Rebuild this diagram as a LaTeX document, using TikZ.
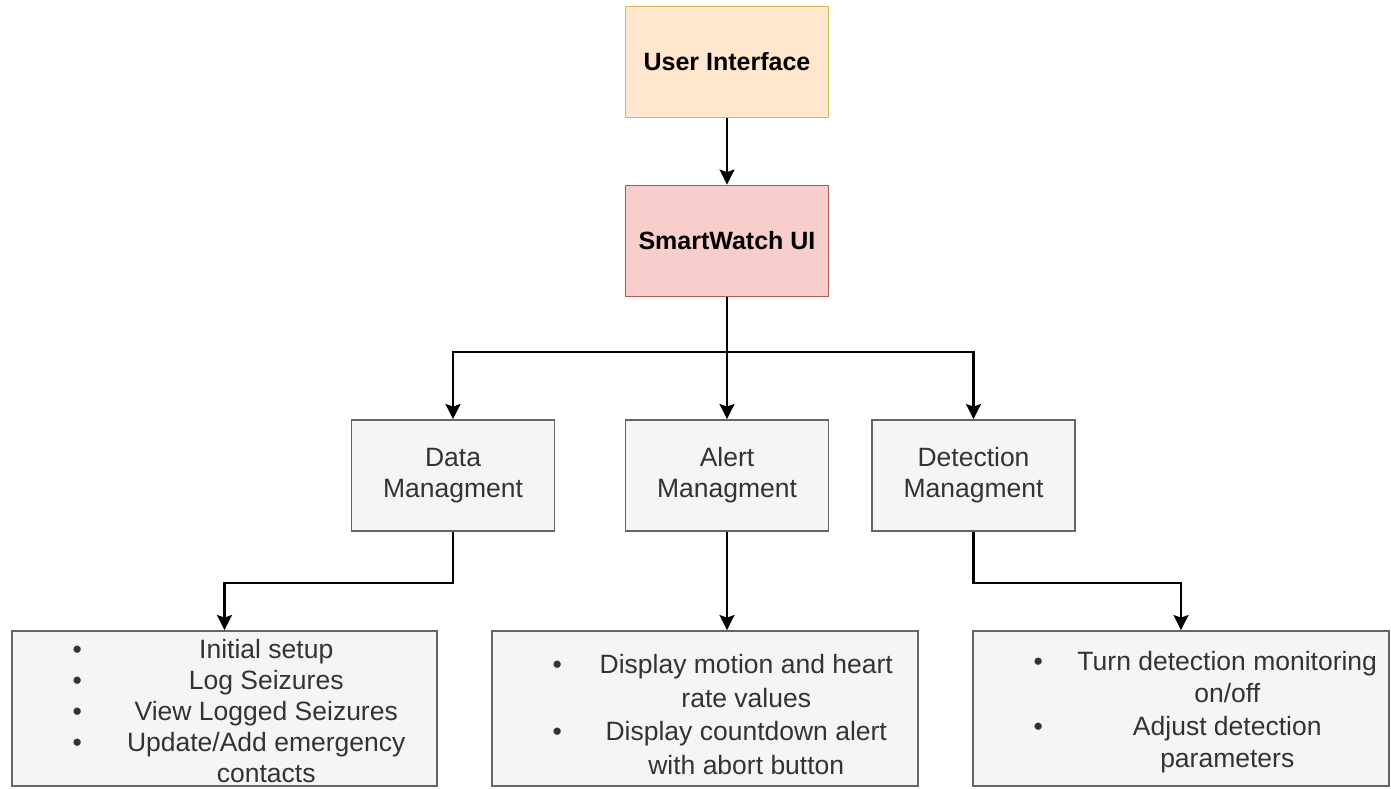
\documentclass[tikz,border=0pt]{standalone}
\usepackage{fontspec}
\setmainfont{Liberation Sans}
\usepackage{array}
\usetikzlibrary{arrows.meta}

\definecolor{uifill}{HTML}{FFE6CC}
\definecolor{uiline}{HTML}{D6B656}
\definecolor{swfill}{HTML}{F8CECC}
\definecolor{swline}{HTML}{B85450}
\definecolor{greyfill}{HTML}{F5F5F5}
\definecolor{greyline}{HTML}{666666}
\definecolor{greytext}{HTML}{333333}

\newcommand{\bulletrows}[1]{\begin{tabular}{@{}>{\centering\arraybackslash}p{40pt}@{\hspace{14pt}}>{\centering\arraybackslash}p{310pt}@{}}#1\end{tabular}}

\begin{document}
\begin{tikzpicture}[x=1pt,y=1pt,
  box/.style={draw, line width=1.9pt, minimum width=203pt, minimum height=111pt, inner sep=0pt, align=center},
  topbox/.style={box, font=\fontsize{25}{30}\selectfont\bfseries},
  mgmtbox/.style={box, fill=greyfill, draw=greyline, text=greytext, font=\fontsize{26.5}{31}\selectfont},
  listbox/.style={box, fill=greyfill, draw=greyline, minimum height=155pt},
  listtext/.style={anchor=west, inner sep=0pt, text=greytext, font=\fontsize{26.5}{#1}\selectfont},
  conn/.style={line width=2.2pt, -{Stealth[length=15pt,width=15pt,inset=2.5pt]}}]
\useasboundingbox (0,0) rectangle (1391,-788);

\node[topbox, fill=uifill, draw=uiline] (ui) at (727,-62) {User Interface};
\node[topbox, fill=swfill, draw=swline] (sw) at (727,-241) {SmartWatch UI};

\node[mgmtbox] (data) at (453,-475.5) {Data\\Managment};
\node[mgmtbox] (alert) at (727,-475.5) {Alert\\Managment};
\node[mgmtbox] (detect) at (973.5,-475.5) {Detection\\Managment};

\node[listbox, minimum width=425pt] (datalist) at (224.5,-708.5) {};
\node[listbox, minimum width=426pt] (alertlist) at (705,-708.5) {};
\node[listbox, minimum width=416pt] (detectlist) at (1181,-708.5) {};

\node[listtext=31pt] (datatext) at ([xshift=46pt,yshift=-6pt]datalist.west) {\bulletrows{
  \textbullet & Initial setup\\
  \textbullet & Log Seizures\\
  \textbullet & View Logged Seizures\\
  \textbullet & Update/Add emergency\\
              & contacts}};
\node[listtext=33.5pt] (alerttext) at ([xshift=46pt,yshift=-9pt]alertlist.west) {\bulletrows{
  \textbullet & Display motion and heart\\
              & rate values\\
  \textbullet & Display countdown alert\\
              & with abort button}};
\node[listtext=32.5pt] (detecttext) at ([xshift=46pt,yshift=-4pt]detectlist.west) {\bulletrows{
  \textbullet & Turn detection monitoring\\
              & on/off\\
  \textbullet & Adjust detection\\
              & parameters}};

\coordinate (split) at (727,-352);
\coordinate (databend) at ([yshift=-51pt]data.south);
\coordinate (detectbend) at ([yshift=-51pt]detect.south);

\draw[conn] (ui) -- (sw);
\draw[conn] (sw) -- (alert);
\draw[conn] (split) -| (data);
\draw[conn] (split) -| (detect);
\draw[conn] (data.south) -- (databend) -| (datalist.north);
\draw[conn] (alert.south) -- (alert.south |- alertlist.north);
\draw[conn] (detect.south) -- (detectbend) -| (detectlist.north);
\end{tikzpicture}
\end{document}
